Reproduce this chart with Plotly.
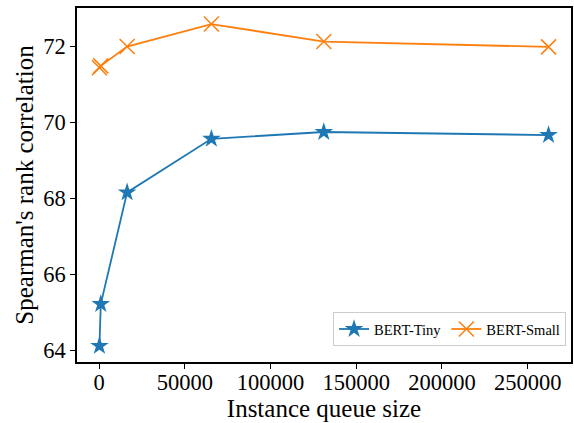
import plotly.graph_objects as go

queue_sizes = [256, 1024, 16384, 65536, 131072, 262144]
bert_tiny = [64.11, 65.21, 68.15, 69.56, 69.74, 69.66]
bert_small = [71.43, 71.48, 71.99, 72.58, 72.12, 71.98]
x_ticks = [0, 50000, 100000, 150000, 200000, 250000]
y_ticks = [64, 66, 68, 70, 72]

blue = "#1f77b4"
orange = "#ff7f0e"
font = "Liberation Serif, Times New Roman, serif"

fig = go.Figure()
fig.add_trace(go.Scatter(
    x=queue_sizes, y=bert_tiny, mode="lines+markers", name="BERT-Tiny",
    line=dict(color=blue, width=1.8),
    marker=dict(symbol="star", size=14, color=blue, line=dict(width=0)),
))
fig.add_trace(go.Scatter(
    x=queue_sizes, y=bert_small, mode="lines+markers", name="BERT-Small",
    line=dict(color=orange, width=1.8),
    marker=dict(symbol="x-thin", size=15, color=orange, line=dict(color=orange, width=1.5)),
))

xmin, xmax = min(queue_sizes), max(queue_sizes)
xm = (xmax - xmin) * 0.05
allv = bert_tiny + bert_small
ymin, ymax = min(allv), max(allv)
ym = (ymax - ymin) * 0.05

axis_common = dict(
    showline=True, linecolor="black", linewidth=1.5, mirror=True,
    ticks="outside", ticklen=5, tickwidth=1.2, tickcolor="black",
    showgrid=False, zeroline=False, automargin=False,
    tickfont=dict(family=font, size=22.5, color="black"),
)

fig.update_layout(
    width=574, height=423,
    margin=dict(l=77, r=3, t=8, b=61),
    plot_bgcolor="white", paper_bgcolor="white",
    font=dict(family=font, color="black"),
    showlegend=True,
    legend=dict(
        orientation="h", x=0.99, y=0.045, xanchor="right", yanchor="bottom",
        bgcolor="rgba(255,255,255,0.8)", bordercolor="#cccccc", borderwidth=1,
        font=dict(family=font, size=14.5, color="black"),
        itemwidth=30, tracegroupgap=0,
    ),
    xaxis=dict(
        range=[xmin - xm, xmax + xm],
        tickvals=x_ticks, tickformat="d", ticklabelstandoff=-6,
        title=dict(text="Instance queue size", font=dict(family=font, size=25, color="black"), standoff=1),
        **axis_common,
    ),
    yaxis=dict(
        range=[ymin - ym, ymax + ym],
        tickvals=y_ticks,
        title=dict(text="Spearman's rank correlation", font=dict(family=font, size=25, color="black"), standoff=3),
        **axis_common,
    ),
)

fig.write_html("out.html", config={"displayModeBar": False},
               post_script="document.body.style.margin='0';")
